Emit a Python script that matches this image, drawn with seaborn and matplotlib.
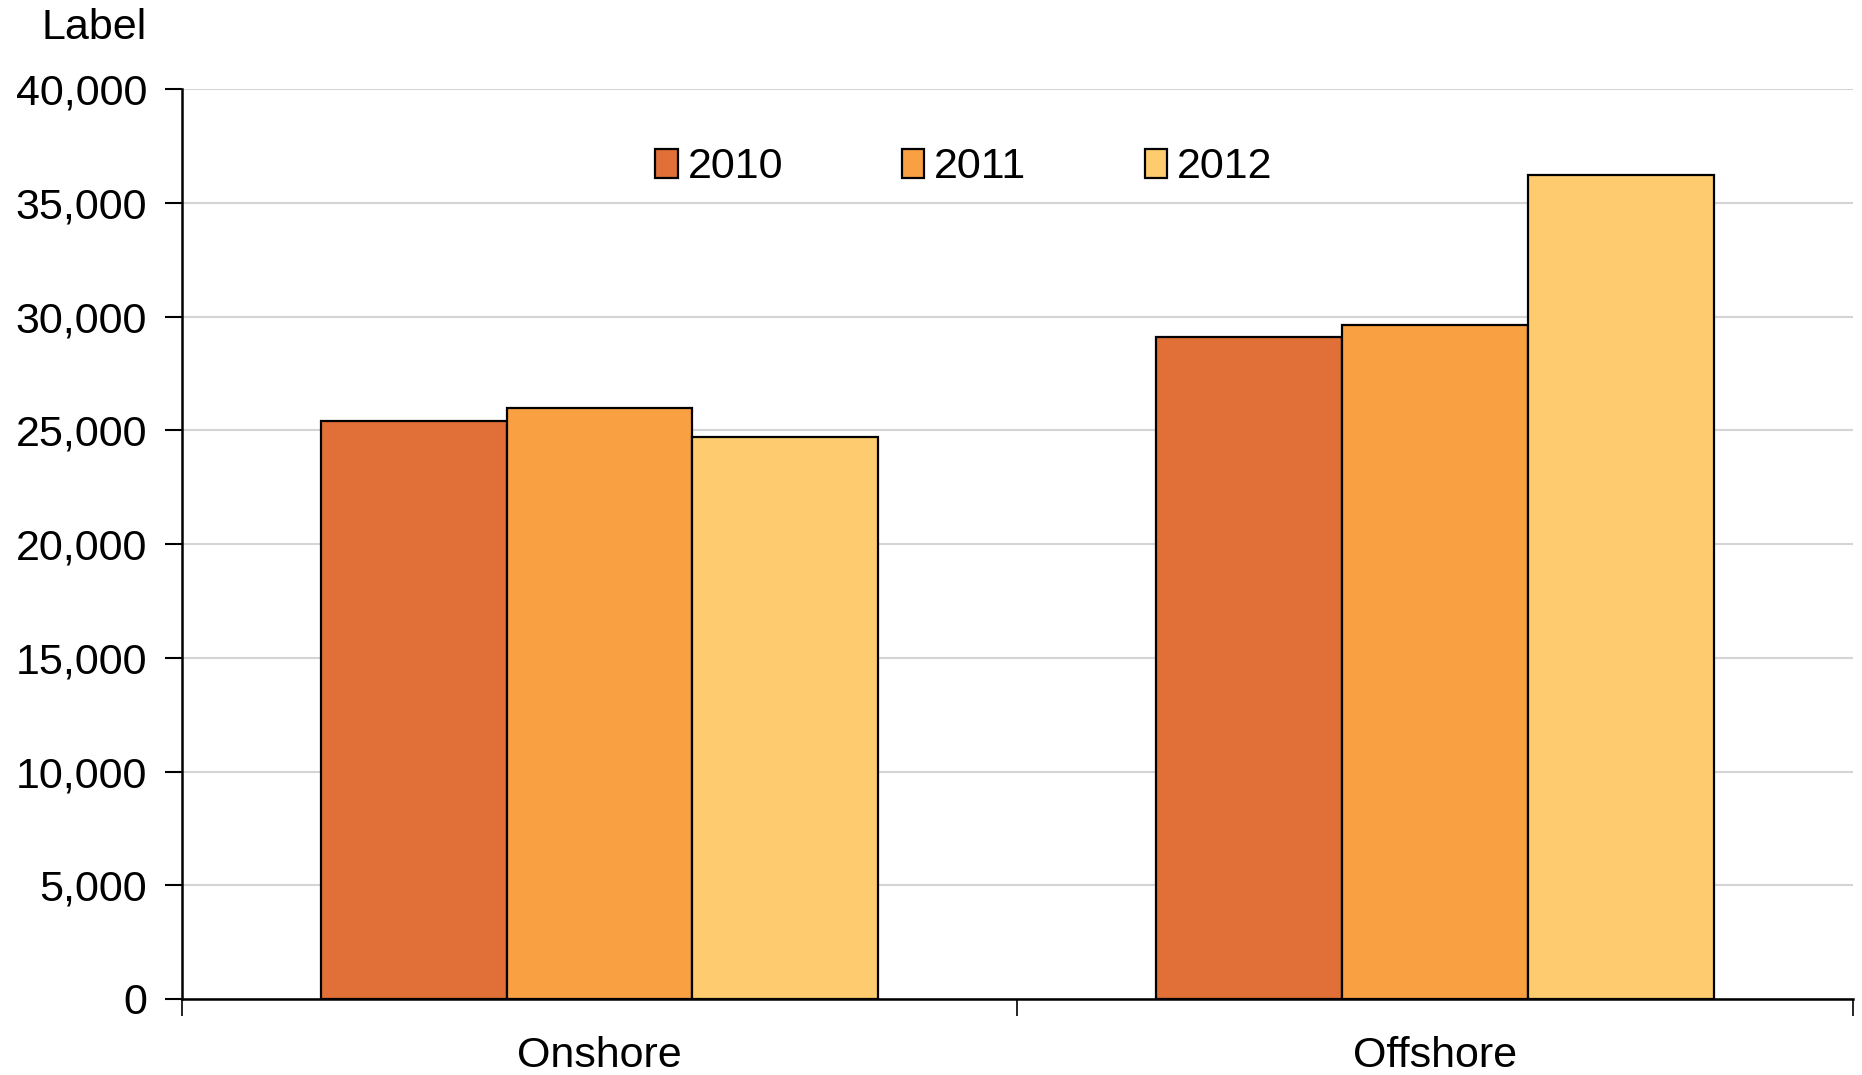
import matplotlib
matplotlib.use("Agg")
import matplotlib.pyplot as plt
import matplotlib.ticker as mticker
import pandas as pd
import seaborn as sns

# Chart values
categories = ["Onshore", "Offshore"]
years = ["2010", "2011", "2012"]
values_2010 = [25400, 29100]
values_2011 = [25970, 29630]
values_2012 = [24720, 36220]
colors = ["#E07038", "#F9A042", "#FECC6E"]
y_ticks = list(range(0, 40001, 5000))

rows = []
for year, vals in zip(years, [values_2010, values_2011, values_2012]):
    for cat, v in zip(categories, vals):
        rows.append({"category": cat, "year": year, "value": v})
df = pd.DataFrame(rows)

sns.set_style("white")
plt.rcParams["font.family"] = ["Liberation Sans", "DejaVu Sans"]
plt.rcParams["text.color"] = "black"
plt.rcParams["xtick.color"] = "black"
plt.rcParams["ytick.color"] = "black"

FS = 31

fig = plt.figure(figsize=(18.62, 10.75), dpi=100)
ax = fig.add_axes([0.0977, 0.0707, 0.8973, 0.8463])

sns.barplot(
    data=df, x="category", y="value", hue="year",
    palette=colors, saturation=1, width=0.667, gap=0,
    edgecolor="black", linewidth=1.6, ax=ax,
)

ax.set_xlim(-0.5, 1.5)
ax.set_ylim(0, 40000)
ax.set_yticks(y_ticks)
ax.yaxis.set_major_formatter(mticker.FuncFormatter(lambda v, p: f"{int(v):,}"))
ax.set_axisbelow(True)
ax.yaxis.grid(True, color="#d4d4d4", linewidth=1.5)
ax.xaxis.grid(False)

# category boundaries as minor ticks, labels on major ticks without marks
ax.set_xticks([-0.5, 0.5, 1.5], minor=True)
ax.tick_params(axis="x", which="major", length=0, pad=27, labelsize=FS)
ax.tick_params(axis="x", which="minor", bottom=True, length=12, width=1.2,
               direction="out", color="black")
ax.tick_params(axis="y", which="major", length=12, width=1.5, direction="out", pad=13,
               labelsize=FS, color="black", left=True)

for side in ["top", "right"]:
    ax.spines[side].set_visible(False)
for side in ["left", "bottom"]:
    ax.spines[side].set_color("black")
    ax.spines[side].set_linewidth(1.8)

ax.set_xlabel("")
ax.set_ylabel("")

ax.legend(
    loc="center", bbox_to_anchor=(0.468, 0.914), ncol=3, frameon=False,
    fontsize=FS, handlelength=0.52, handleheight=0.68, handletextpad=0.23,
    columnspacing=2.75,
)

fig.text(147 / 1862, 1 - 28 / 1075, "Label", ha="right", va="center", fontsize=FS)

fig.savefig("out.png", dpi=100)
